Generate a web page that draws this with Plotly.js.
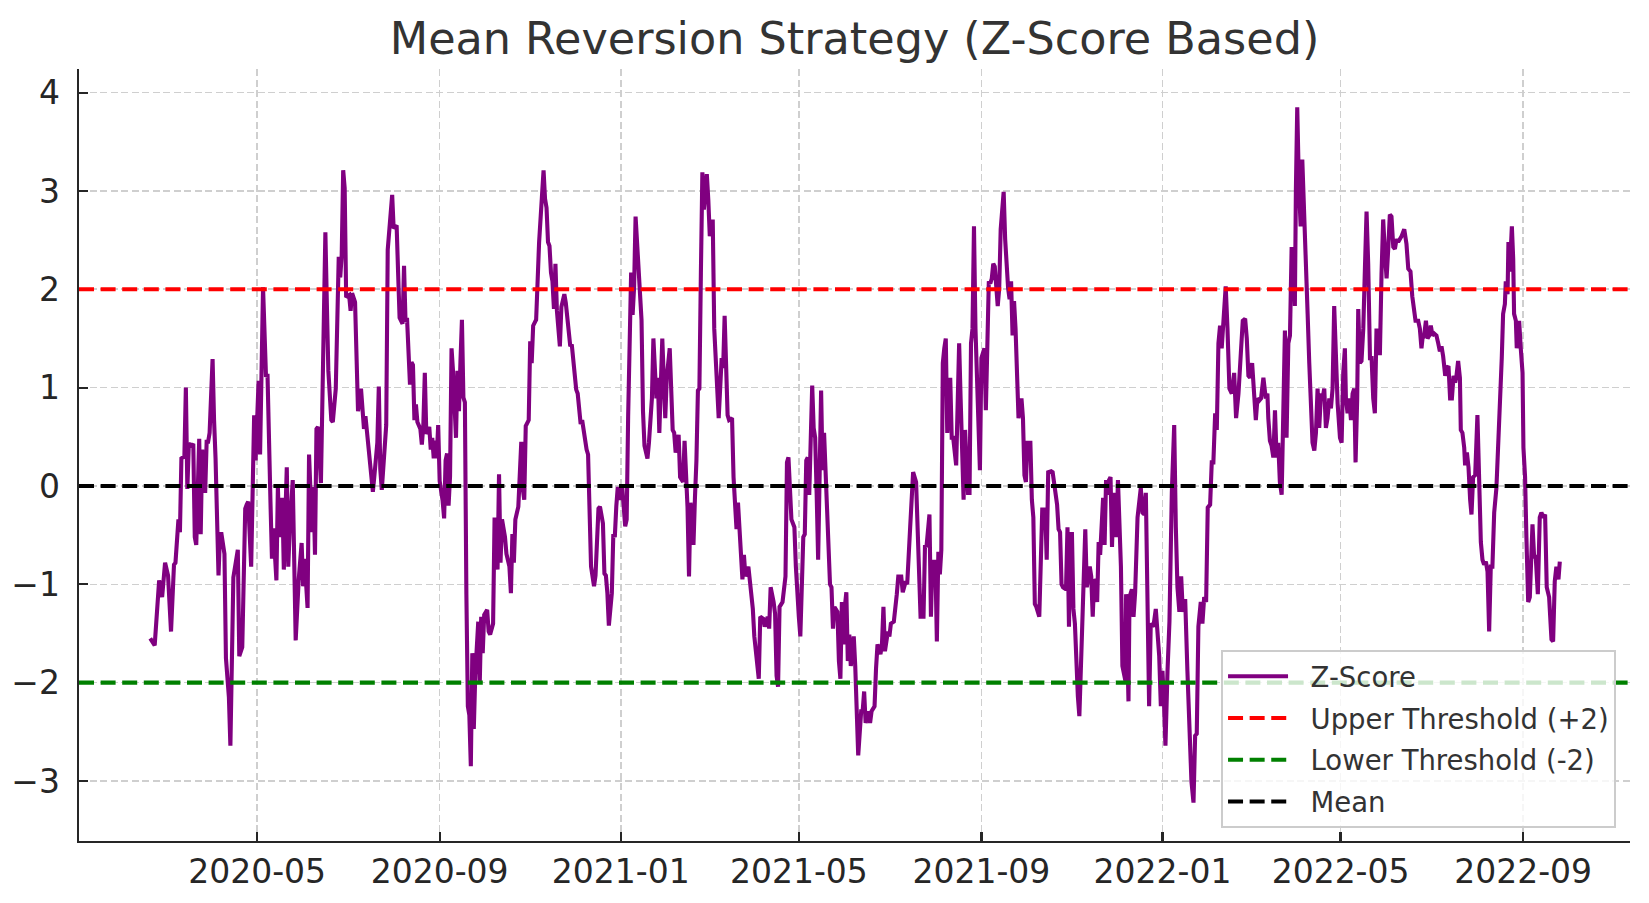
<!DOCTYPE html>
<html>
<head>
<meta charset="utf-8">
<script src="https://cdn.plot.ly/plotly-3.0.1.min.js"></script>
<style>
  html, body { margin: 0; padding: 0; background: #fff; }
  #chart { width: 1649px; height: 903px; }
</style>
</head>
<body>
<div id="chart"></div>
<script>
// days counted from this anchor date
const anchorDate = "2020-05-01";

const dayOffsets = [
  -72, -69, -66, -64, -62, -60, -58, -56, -55, -53, -52, -51, -49, -48, -47, -46, -44, -43, -42, -41,
  -39, -38, -37, -35, -34, -33, -32, -30, -29, -28, -26, -25, -24, -22, -21, -19, -18, -16, -13, -12,
  -10, -8, -7, -6, -4, -3, -2, -1, 1, 2, 4, 6, 7, 9, 10, 11, 13, 14, 15, 17,
  18, 20, 21, 22, 24, 26, 28, 30, 31, 32, 34, 35, 37, 38, 39, 40, 41, 43, 44, 46,
  47, 48, 50, 51, 53, 54, 55, 56, 57, 58, 59, 60, 62, 63, 64, 66, 67, 68, 70, 71,
  72, 73, 75, 76, 78, 79, 81, 82, 83, 84, 86, 87, 88, 90, 91, 92, 94, 95, 96, 98,
  99, 100, 101, 103, 104, 105, 106, 107, 108, 110, 111, 112, 113, 114, 116, 117, 118, 119, 120, 121,
  122, 123, 125, 126, 127, 128, 129, 130, 131, 132, 134, 135, 136, 137, 138, 139, 140, 141, 142, 143,
  144, 145, 146, 147, 149, 150, 151, 152, 153, 155, 156, 157, 159, 160, 162, 163, 164, 165, 167, 168,
  170, 171, 172, 173, 174, 176, 178, 179, 180, 181, 183, 184, 185, 186, 187, 188, 190, 191, 192, 193,
  194, 195, 196, 197, 198, 199, 200, 201, 202, 204, 205, 207, 208, 210, 211, 212, 213, 215, 216, 218,
  219, 221, 222, 223, 224, 225, 227, 228, 230, 231, 233, 234, 235, 236, 237, 239, 240, 241, 242, 243,
  244, 245, 246, 248, 249, 250, 251, 252, 253, 254, 255, 257, 259, 260, 261, 263, 264, 266, 267, 269,
  270, 271, 272, 273, 275, 276, 278, 280, 281, 282, 284, 285, 287, 288, 290, 291, 292, 294, 295, 296,
  297, 298, 299, 300, 301, 302, 303, 304, 305, 306, 307, 308, 310, 311, 313, 314, 315, 317, 318, 320,
  321, 323, 324, 325, 327, 328, 329, 331, 333, 334, 335, 337, 338, 339, 341, 342, 344, 345, 346, 348,
  349, 350, 351, 352, 354, 356, 357, 358, 359, 360, 362, 363, 365, 366, 368, 369, 370, 371, 372, 374,
  375, 376, 377, 378, 380, 381, 382, 383, 385, 386, 387, 388, 389, 391, 392, 393, 394, 395, 396, 397,
  398, 399, 400, 402, 403, 404, 405, 407, 408, 409, 410, 412, 413, 414, 416, 417, 418, 420, 421, 422,
  423, 425, 426, 427, 429, 431, 432, 434, 435, 437, 438, 440, 441, 442, 444, 445, 446, 447, 449, 450,
  451, 453, 454, 455, 457, 458, 459, 460, 461, 462, 463, 464, 465, 467, 468, 469, 471, 472, 473, 474,
  475, 476, 477, 479, 480, 481, 482, 483, 484, 486, 487, 488, 489, 490, 491, 493, 494, 495, 496, 497,
  499, 500, 501, 503, 504, 505, 506, 507, 508, 509, 510, 511, 512, 513, 515, 516, 517, 518, 519, 521,
  522, 523, 524, 525, 527, 528, 529, 531, 532, 533, 535, 536, 537, 539, 540, 541, 542, 543, 545, 546,
  547, 548, 549, 550, 551, 552, 553, 554, 556, 557, 558, 559, 561, 562, 563, 564, 565, 566, 567, 568,
  570, 571, 572, 573, 574, 575, 576, 577, 579, 580, 582, 583, 584, 585, 585.5, 586.4, 587.1, 587.8, 589.4, 590.5,
  591.6, 593.2, 594.3, 595.4, 596.5, 597.7, 598.8, 599.9, 601.0, 602.1, 603.9, 605.5, 606.6, 607.8, 608.9, 610.0, 611.1, 612.0, 613.4, 614.7,
  616.3, 617.9, 619.0, 620.1, 621.4, 622.6, 623.7, 625.3, 626.8, 628.2, 629.5, 630.9, 632.0, 633.1, 634.2, 635.8, 636.9, 638.1, 639.4, 640.5,
  642.1, 643.2, 644.3, 645.5, 646.6, 647.7, 648.8, 649.9, 651.1, 652.6, 653.8, 655.1, 656.7, 658.3, 659.6, 661.2, 662.8, 664.1, 665.7, 666.8,
  667.9, 669.0, 670.4, 671.7, 672.9, 674.0, 675.3, 676.4, 678.0, 679.6, 680.7, 681.3, 682.4, 683.5, 684.7, 685.8, 686.9, 688.0, 689.1, 690.3,
  691.4, 692.5, 693.6, 694.8, 695.9, 697.0, 698.1, 699.2, 699.9, 700.8, 701.9, 703.1, 704.2, 705.3, 706.7, 707.8, 708.9, 710.0, 711.1, 712.3,
  713.4, 714.5, 715.6, 716.8, 717.9, 719.0, 720.1, 721.2, 722.4, 723.5, 724.6, 725.7, 726.6, 728.0, 729.6, 730.7, 731.8, 732.9, 733.6, 734.7,
  735.8, 737.0, 738.1, 739.2, 740.1, 741.2, 741.9, 743.0, 744.1, 745.3, 746.4, 747.5, 748.6, 749.8, 750.9, 752.0, 753.1, 754.2, 755.4, 756.5,
  757.6, 758.7, 759.9, 761.0, 762.1, 763.2, 764.3, 765.5, 766.6, 767.7, 768.8, 770.0, 771.1, 772.9, 774.4, 775.6, 777.1, 778.3, 779.6, 780.5,
  782.3, 783.4, 784.5, 785.2, 786.3, 787.5, 788.6, 789.7, 790.8, 791.9, 793.1, 794.6, 795.8, 796.9, 798.0, 799.1, 800.5, 801.6, 802.7, 803.8,
  805.0, 806.1, 807.2, 808.1, 809.2, 810.4, 811.0, 812.1, 813.3, 813.9, 815.1, 816.2, 817.3, 818.2, 819.3, 820.7, 822.2, 823.4, 824.5, 825.6,
  826.7, 827.9, 829.0, 830.1, 831.2, 832.3, 833.5, 835.0, 836.4, 837.5, 838.6, 839.5, 840.7, 841.3, 842.5, 843.1, 844.0, 845.4, 846.3, 846.9,
  848.1, 848.7, 850.3, 851.4, 852.6, 853.2, 854.3, 855.2, 856.4, 857.5, 858.4, 859.3, 860.4, 861.5, 862.9, 864.2, 865.3, 866.5, 867.8, 868.9,
  870.5, 872.1, 873.2, 874.3, 875.4, 876.8, 877.7
];

const zScore = [
  -1.55, -1.62, -0.96, -1.13, -0.78, -0.91, -1.48, -0.80, -0.78, -0.34, -0.47, 0.28, 0.30, 1.00, -0.03, 0.43, 0.41, 0.43, -0.52, -0.60,
  0.48, -0.49, 0.37, -0.07, 0.45, 0.45, 0.54, 1.29, 0.67, 0.28, -0.91, -0.49, -0.49, -0.69, -1.75, -2.15, -2.64, -0.93, -0.65, -1.73,
  -1.64, -0.23, -0.19, -0.16, -0.82, -0.14, 0.72, 0.26, 1.07, 0.32, 2.02, 1.11, 1.14, -0.16, -0.74, -0.43, -0.96, -0.01, -0.52, -0.12,
  -0.85, 0.19, -0.82, -0.43, 0.06, -1.57, -0.96, -0.58, -1.02, -0.74, -1.24, 0.32, -0.47, -0.01, -0.70, 0.58, 0.60, 0.03, 0.90, 2.58,
  1.85, 1.17, 0.67, 0.65, 0.99, 1.53, 2.33, 2.12, 2.35, 3.21, 3.03, 1.92, 1.94, 1.78, 1.96, 1.87, 1.40, 0.76, 0.99, 0.74,
  0.58, 0.71, 0.40, 0.35, -0.06, 0.10, 0.44, 1.01, 0.17, -0.04, 0.35, 0.62, 2.40, 2.85, 2.96, 2.62, 2.65, 2.17, 1.71, 1.65,
  2.24, 1.67, 1.71, 1.03, 1.26, 1.23, 0.67, 0.83, 0.65, 0.58, 0.42, 0.62, 1.15, 0.53, 0.60, 0.37, 0.49, 0.28, 0.46, 0.28,
  0.62, 0.05, -0.15, -0.33, 0.26, 0.33, -0.20, 0.10, 1.40, 1.17, 0.49, 1.17, 0.76, 1.26, 1.69, 0.90, 0.85, -1.10, -2.24, -2.33,
  -2.85, -1.70, -2.47, -1.92, -1.38, -2.01, -1.33, -1.70, -1.31, -1.26, -1.48, -1.51, -1.40, -0.32, -0.85, 0.12, -0.78, -0.34, -0.52, -0.69,
  -0.82, -1.09, -0.49, -0.78, -0.34, -0.21, 0.45, -0.03, -0.14, 0.61, 0.67, 1.47, 1.25, 1.63, 1.67, 1.69, 2.48, 2.74, 2.88, 3.21,
  2.92, 2.83, 2.48, 2.44, 2.17, 2.08, 1.80, 2.26, 1.78, 1.42, 1.82, 1.95, 1.86, 1.51, 1.42, 1.44, 1.25, 0.98, 0.94, 0.63,
  0.67, 0.45, 0.37, 0.32, -0.52, -0.82, -1.02, -0.91, -0.23, -0.21, -0.38, -0.89, -0.91, -1.09, -1.42, -1.09, -0.49, -0.52, -0.21, -0.01,
  -0.14, -0.05, -0.01, -0.41, -0.34, 0.72, 1.33, 2.17, 1.74, 2.02, 2.74, 2.17, 1.69, 0.76, 0.41, 0.28, 0.44, 0.89, 1.50, 0.89,
  1.10, 0.54, 1.15, 1.50, 0.69, 1.10, 1.40, 0.57, 0.54, 0.34, 0.52, 0.09, 0.04, 0.46, -0.22, -0.92, -0.17, -0.60, -0.12, 0.26,
  0.97, 0.99, 2.16, 3.19, 2.81, 2.96, 3.17, 2.91, 2.54, 2.69, 2.69, 1.60, 0.89, 0.69, 1.30, 1.20, 1.73, 0.72, 0.67, 0.69,
  0.09, -0.44, -0.17, -0.42, -0.95, -0.70, -0.92, -0.82, -1.13, -1.25, -1.53, -1.83, -1.96, -1.33, -1.35, -1.43, -1.33, -1.45, -1.03, -1.18,
  -1.30, -1.93, -2.04, -1.23, -1.18, -0.92, 0.24, 0.29, -0.02, -0.34, -0.42, -0.82, -1.33, -1.53, -0.52, -0.49, 0.26, 0.29, -0.09, 1.02,
  0.59, 0.49, -0.07, -0.75, 0.97, 0.16, 0.54, 0.14, -0.42, -1.00, -1.03, -1.45, -1.23, -1.28, -1.78, -1.96, -1.18, -1.61, -1.23, -1.08,
  -1.78, -1.51, -1.83, -1.53, -1.83, -2.34, -2.74, -2.29, -2.29, -2.09, -2.41, -2.29, -2.41, -2.29, -2.24, -1.86, -1.61, -1.71, -1.61, -1.23,
  -1.68, -1.48, -1.53, -1.40, -1.38, -1.10, -0.92, -0.92, -1.08, -0.97, -1.00, -0.42, -0.14, 0.14, 0.04, -0.49, -0.87, -1.33, -1.33, -0.60,
  -0.62, -0.29, -1.33, -0.77, -0.77, -1.58, -0.67, -0.90, -0.65, 1.25, 1.40, 1.50, 0.54, 1.10, 0.49, 0.49, 0.21, 0.84, 1.45, 0.89,
  0.29, -0.14, 0.57, -0.07, -0.07, 1.45, 1.60, 2.64, 1.60, 0.82, 0.16, 1.30, 1.35, 1.40, 0.77, 2.08, 2.06, 2.11, 2.26, 2.23,
  1.83, 2.01, 2.61, 2.99, 2.51, 2.13, 2.01, 1.90, 2.08, 1.53, 1.88, 1.60, 1.25, 0.69, 0.89, 0.69, 0.11, 0.04, 0.44, 0.44,
  -0.14, -0.32, -1.20, -1.23, -1.33, -0.62, -0.24, -0.24, -0.75, 0.14, 0.15, 0.14, 0.01, -0.19, -0.44, -0.47, -1.00, -1.03, -1.05, -0.42,
  -1.43, -0.49, -0.49, -1.25, -1.40, -1.88, -2.14, -2.34, -1.38, -0.82, -0.44, -1.03, -0.82, -0.92, -1.33, -0.95, -0.97, -1.18, -0.57, -0.70,
  -0.12, -0.60, 0.06, -0.09, 0.06, 0.09, -0.62, -0.07, -0.52, 0.06, -0.82, -1.83, -1.93, -1.98, -1.10, -2.04, -2.19, -1.13, -1.05, -1.33,
  -1.08, -0.32, -0.17, -0.02, -0.27, -0.29, -0.07, -1.43, -2.24, -1.40, -1.43, -1.25, -1.48, -1.73, -2.24, -1.88, -2.24, -2.64, -1.88, -1.38,
  -0.07, 0.62, -0.42, -1.03, -1.28, -0.92, -1.28, -1.15, -1.88, -2.54, -3.00, -3.22, -2.54, -2.52, -1.43, -1.18, -1.40, -1.13, -1.18, -0.22,
  -0.19, 0.24, 0.24, 0.74, 0.57, 1.45, 1.63, 1.40, 1.63, 2.03, 1.60, 0.99, 0.94, 1.15, 0.69, 0.94, 1.35, 1.68, 1.70, 1.50,
  1.12, 1.10, 1.25, 0.89, 0.67, 0.89, 0.87, 0.89, 1.10, 0.89, 0.94, 0.69, 0.46, 0.41, 0.29, 0.77, 0.29, 0.44, 0.04, -0.09,
  0.89, 1.58, 0.49, 1.45, 1.53, 2.41, 2.41, 1.83, 3.02, 3.85, 3.07, 2.64, 3.32, 2.91, 2.31, 1.75, 1.25, 0.82, 0.44, 0.36,
  0.54, 0.99, 0.59, 0.94, 0.89, 0.99, 0.59, 0.69, 0.89, 0.79, 0.99, 1.83, 1.45, 0.84, 0.49, 0.44, 1.15, 1.40, 0.89, 0.74,
  0.89, 0.67, 0.94, 0.99, 0.24, 0.89, 1.80, 1.25, 1.27, 1.60, 2.21, 2.79, 2.26, 1.30, 1.30, 0.89, 0.74, 1.60, 1.35, 1.35,
  2.16, 2.71, 2.36, 2.11, 2.41, 2.76, 2.74, 2.43, 2.41, 2.51, 2.48, 2.51, 2.54, 2.61, 2.46, 2.21, 2.18, 1.93, 1.80, 1.68,
  1.68, 1.60, 1.40, 1.50, 1.53, 1.68, 1.50, 1.53, 1.63, 1.53, 1.55, 1.53, 1.45, 1.37, 1.42, 1.32, 1.12, 1.20, 1.22, 0.89,
  0.89, 1.12, 1.05, 1.12, 1.27, 1.10, 0.57, 0.54, 0.39, 0.21, 0.34, 0.19, -0.14, -0.29, 0.09, 0.11, 0.72, -0.02, -0.57, -0.75,
  -0.80, -0.77, -0.87, -1.48, -0.82, -0.82, -0.27, -0.02, 0.49, 0.74, 1.30, 1.75, 1.85, 2.08, 1.95, 2.48, 2.18, 2.64, 2.31, 1.75,
  1.68, 1.40, 1.68, 1.40, 1.15, 0.39, 0.09, -0.52, -1.18, -1.13, -0.62, -0.39, -0.72, -0.72, -1.10, -0.32, -0.27, -0.32, -0.29, -1.03,
  -1.13, -1.56, -1.58, -0.97, -0.82, -0.95, -0.77
];

const upperThreshold = 2;
const lowerThreshold = -2;
const meanLevel = 0;

const xRange = ["2020-01-02", "2022-11-12"];
const yRange = [-3.61, 4.24];

// turn day offsets into plotly date strings
const anchorMs = Date.parse(anchorDate + "T00:00:00Z");
const dates = dayOffsets.map(d =>
  new Date(anchorMs + d * 86400000).toISOString().slice(0, 19).replace("T", " ")
);

const FONT = "DejaVu Sans, Liberation Sans, sans-serif";
const DASH = "15px,6.6px";
// small gap between the legend sample line and its label
const GAP = "\u00a0\u00a0";

const hline = (y, color, name, rank) => ({
  type: "line",
  xref: "paper", x0: 0, x1: 1,
  yref: "y", y0: y, y1: y,
  line: { color: color, width: 4.1, dash: DASH },
  layer: "above",
  showlegend: true,
  name: GAP + name,
  legendgroup: name,
  legendrank: rank
});

const traces = [{
  x: dates,
  y: zScore,
  type: "scatter",
  mode: "lines",
  name: GAP + "Z-Score",
  legendgroup: "z",
  line: { color: "#800080", width: 4.1 },
  legendrank: 1
}];

const axisCommon = {
  showline: true,
  linecolor: "#262626",
  linewidth: 2.4,
  ticks: "inside",
  ticklen: 9,
  tickwidth: 2.2,
  tickcolor: "#262626",
  showgrid: true,
  gridcolor: "#cfcfcf",
  gridwidth: 1.6,
  griddash: "7px,3.5px",
  zeroline: false,
  mirror: false,
  tickfont: { family: FONT, size: 33, color: "#262626" }
};

const layout = {
  width: 1649,
  height: 903,
  paper_bgcolor: "#ffffff",
  plot_bgcolor: "#ffffff",
  font: { family: FONT, color: "#262626" },
  margin: { l: 79, r: 19, t: 69, b: 62, pad: 0 },
  title: {
    text: "Mean Reversion Strategy (Z-Score Based)",
    font: { family: FONT, size: 44.5, color: "#333333" },
    xref: "paper", x: 0.5, xanchor: "center",
    yref: "container", y: 0.958, yanchor: "middle"
  },
  xaxis: {
    ...axisCommon,
    type: "date",
    range: xRange,
    tickmode: "linear",
    tick0: "2020-01-01",
    dtick: "M4",
    tickformat: "%Y-%m",
    ticklabelstandoff: 0
  },
  yaxis: {
    ...axisCommon,
    range: yRange,
    tickmode: "linear",
    tick0: 0,
    dtick: 1,
    ticklabelstandoff: 10
  },
  shapes: [
    hline(upperThreshold, "#ff0000", "Upper Threshold (+2)", 2),
    hline(lowerThreshold, "#008000", "Lower Threshold (-2)", 3),
    hline(meanLevel, "#000000", "Mean", 4)
  ],
  showlegend: true,
  legend: {
    x: 0.991, xanchor: "right",
    y: 0.017, yanchor: "bottom",
    bgcolor: "rgba(255,255,255,0.8)",
    bordercolor: "#cccccc",
    borderwidth: 2,
    font: { family: FONT, size: 27.5, color: "#333333" },
    itemwidth: 60,
    tracegroupgap: 3,
    traceorder: "grouped"
  }
};

Plotly.newPlot("chart", traces, layout, { staticPlot: true, displayModeBar: false });
</script>
</body>
</html>
